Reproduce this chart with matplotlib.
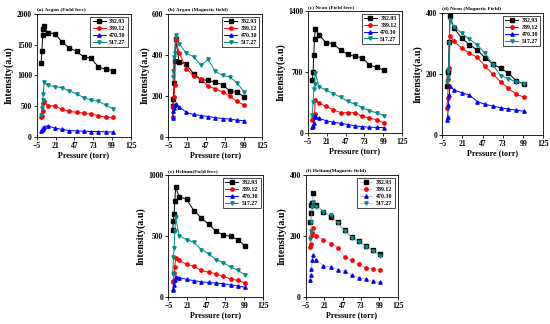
import numpy as np
import matplotlib.pyplot as plt

plt.rcParams['font.family'] = ['Liberation Serif', 'DejaVu Serif']
plt.rcParams['font.weight'] = 'bold'

# pressure values (torr)
pressure = [1, 2, 3, 4, 5, 10, 20, 30, 40, 50, 60, 70, 80, 90, 100]
wavelengths = ['382.93', '389.12', '470.30', '517.27']

# (a) Argon field free
ar_ff_382 = [1200, 1400, 1650, 1750, 1800, 1690, 1680, 1540, 1450, 1390, 1300, 1280, 1140, 1100, 1080]
ar_ff_389 = [320, 340, 420, 560, 580, 510, 505, 450, 420, 400, 390, 370, 350, 320, 320]
ar_ff_470 = [100, 115, 130, 150, 165, 185, 145, 125, 105, 100, 95, 90, 90, 85, 80]
ar_ff_517 = [360, 480, 600, 700, 890, 840, 820, 800, 750, 700, 640, 600, 580, 520, 460]

# (b) Argon magnetic field
ar_mf_382 = [150, 185, 265, 370, 480, 365, 355, 308, 280, 277, 266, 256, 224, 218, 196]
ar_mf_389 = [100, 150, 195, 255, 478, 410, 334, 298, 282, 248, 235, 220, 199, 174, 155]
ar_mf_470 = [95, 125, 140, 155, 160, 148, 120, 110, 105, 100, 95, 90, 88, 82, 80]
ar_mf_517 = [295, 320, 390, 410, 495, 455, 408, 392, 350, 378, 320, 300, 293, 264, 220]

# (c) Neon field free
ne_ff_382 = [600, 700, 894, 1073, 1187, 1122, 1035, 1020, 950, 901, 877, 860, 778, 750, 718]
ne_ff_389 = [150, 170, 200, 220, 380, 340, 304, 262, 232, 230, 230, 190, 168, 150, 114]
ne_ff_470 = [70, 80, 110, 180, 190, 165, 140, 120, 110, 95, 80, 70, 65, 62, 60]
ne_ff_517 = [200, 350, 500, 560, 690, 530, 490, 450, 410, 360, 330, 287, 255, 228, 198]

# (d) Neon magnetic field
ne_mf_382 = [160, 208, 210, 304, 391, 350, 318, 296, 279, 253, 233, 219, 203, 178, 167]
ne_mf_389 = [90, 120, 185, 220, 325, 307, 285, 268, 255, 225, 200, 175, 153, 135, 124]
ne_mf_470 = [50, 60, 100, 130, 161, 148, 139, 131, 110, 101, 95, 90, 85, 82, 78]
ne_mf_517 = [175, 190, 210, 300, 376, 354, 334, 314, 296, 268, 230, 195, 185, 175, 168]

# (e) Helium field free
he_ff_382 = [548, 622, 679, 789, 899, 822, 800, 707, 649, 597, 540, 507, 499, 471, 416]
he_ff_389 = [120, 130, 200, 250, 320, 300, 268, 252, 219, 203, 192, 170, 148, 137, 115]
he_ff_470 = [55, 70, 100, 140, 168, 160, 145, 135, 125, 120, 115, 110, 100, 92, 80]
he_ff_517 = [192, 329, 403, 540, 652, 501, 471, 449, 389, 356, 307, 282, 247, 219, 184]

# (f) Helium magnetic field
he_mf_382 = [245, 274, 300, 309, 340, 303, 280, 262, 245, 220, 198, 185, 169, 153, 142]
he_mf_389 = [165, 175, 200, 210, 225, 200, 188, 175, 162, 131, 120, 107, 96, 92, 90]
he_mf_470 = [55, 73, 93, 123, 139, 120, 103, 98, 90, 84, 71, 63, 58, 52, 48]
he_mf_517 = [190, 215, 245, 295, 310, 295, 280, 268, 242, 215, 195, 180, 165, 150, 135]

panels = [
    ('(a) Argon (Field free)', [ar_ff_382, ar_ff_389, ar_ff_470, ar_ff_517], [0, 500, 1000, 1500, 2000], 2000),
    ('(b) Argon (Magnetic field)', [ar_mf_382, ar_mf_389, ar_mf_470, ar_mf_517], [0, 200, 400, 600], 600),
    ('(c) Neon (Field free)', [ne_ff_382, ne_ff_389, ne_ff_470, ne_ff_517], [0, 700, 1400], 1400),
    ('(d) Neon (Magnetic Field)', [ne_mf_382, ne_mf_389, ne_mf_470, ne_mf_517], [0, 200, 400], 400),
    ('(e) Helium(Field free)', [he_ff_382, he_ff_389, he_ff_470, he_ff_517], [0, 500, 1000], 1000),
    ('(f) Helium(Magnetic field)', [he_mf_382, he_mf_389, he_mf_470, he_mf_517], [0, 200, 400], 400),
]

positions = [
    [0.067, 0.577, 0.171, 0.380],
    [0.306, 0.577, 0.171, 0.380],
    [0.560, 0.590, 0.171, 0.377],
    [0.804, 0.583, 0.184, 0.377],
    [0.306, 0.083, 0.173, 0.377],
    [0.556, 0.083, 0.167, 0.377],
]

colors = ['black', 'red', 'blue', '#008b8b']
markers = ['s', 'o', '^', 'v']

fig = plt.figure(figsize=(5.5, 3.24), dpi=100)

for i, (title, series, yticks, ymax) in enumerate(panels):
    ax = fig.add_axes(positions[i])
    for j, ys in enumerate(series):
        if i == 5:
            ax.plot(pressure, ys, color='#999999', lw=0.4, marker=markers[j],
                    ms=2.4, mfc=colors[j], mec=colors[j], label=wavelengths[j])
        else:
            ax.plot(pressure, ys, color=colors[j], lw=0.7, marker=markers[j],
                    ms=2.4, label=wavelengths[j])
    ax.set_xlim(-5, 125)
    ax.set_ylim(0, ymax)
    ax.set_xticks([-5, 21, 47, 73, 99, 125])
    ax.set_yticks(yticks)
    ax.tick_params(labelsize=5.5, length=2, width=0.6, pad=1.5)
    for lab in ax.get_xticklabels() + ax.get_yticklabels():
        lab.set_fontweight('bold')
    for sp in ax.spines.values():
        sp.set_linewidth(0.6)
    ax.set_xlabel('Pressure (torr)', fontsize=5.8, fontweight='bold', labelpad=1)
    ax.set_ylabel('Intensity(a.u)', fontsize=7.2, fontweight='bold', labelpad=2)
    ax.set_title(title, fontsize=3.8, fontweight='bold', loc='left', pad=2)
    leg = ax.legend(loc='upper right', fontsize=4.2, handlelength=2.2,
                    borderpad=0.4, labelspacing=0.3, handletextpad=0.6,
                    fancybox=False, edgecolor='black', framealpha=1)
    leg.get_frame().set_linewidth(0.5)
    for t in leg.get_texts():
        t.set_fontweight('bold')

plt.savefig('out.png', dpi=100)
